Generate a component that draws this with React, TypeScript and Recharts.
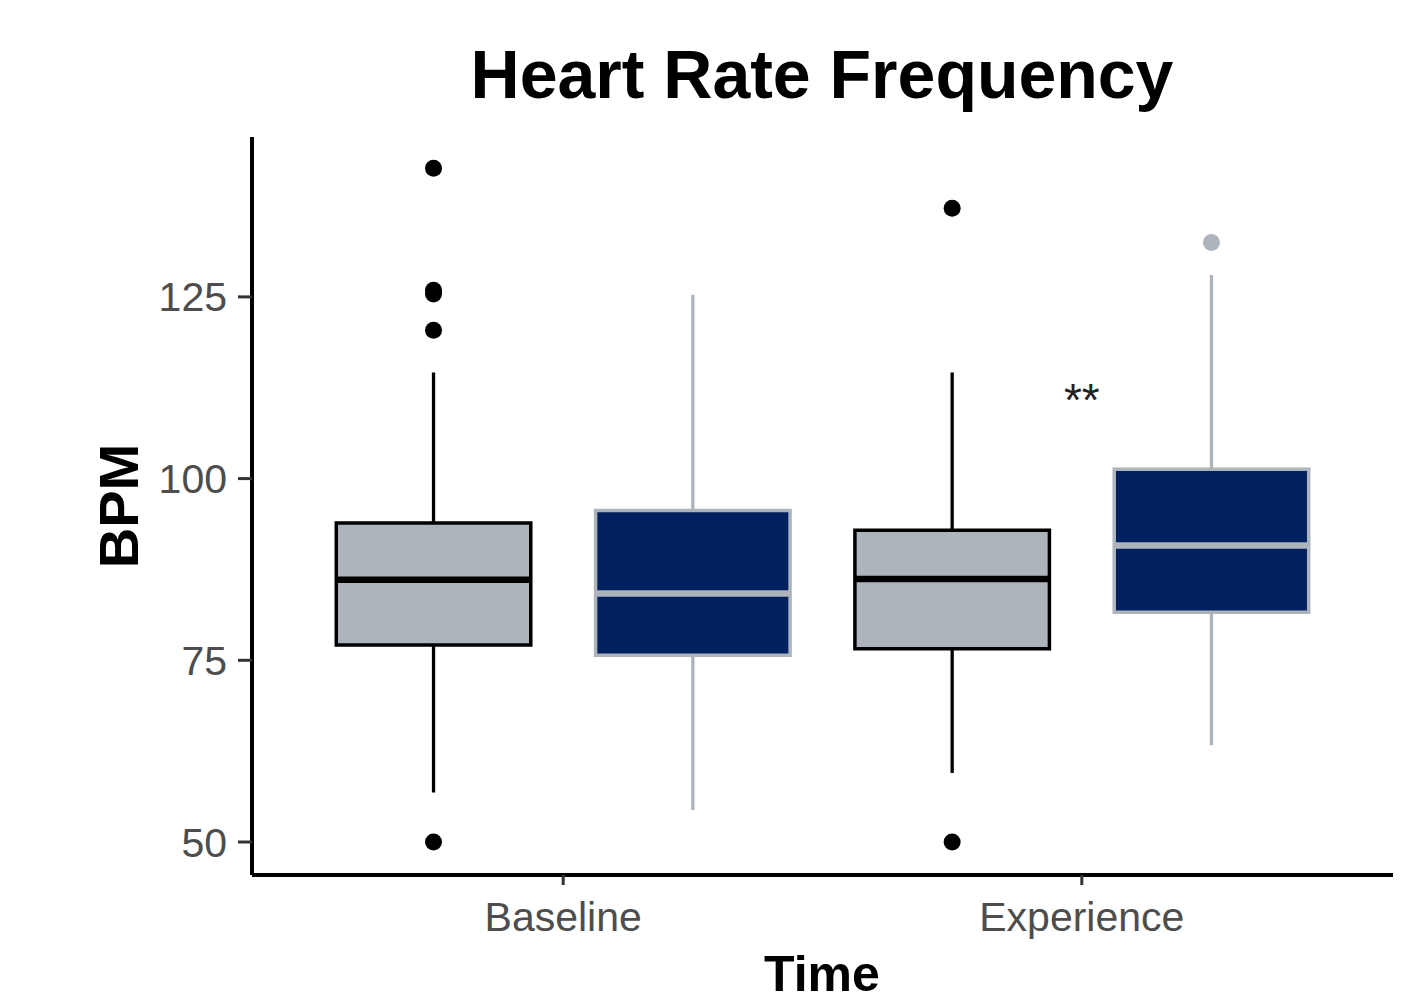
import React from "react";
import {
  ComposedChart,
  XAxis,
  YAxis,
  Scatter,
  ReferenceArea,
  ReferenceLine,
  ReferenceDot,
} from "recharts";

// time points on the x axis
const timePoints = ["Baseline", "Experience"];

// first condition (light grey boxes)
const greyLow = [56.8, 59.5];
const greyQ1 = [77.1, 76.6];
const greyMedian = [86.1, 86.2];
const greyQ3 = [93.9, 92.9];
const greyHigh = [114.6, 114.6];
const greyOutliers = [
  [142.7, 125.4, 125.9, 120.4, 50],
  [137.2, 50],
];

// second condition (navy boxes)
const navyLow = [54.4, 63.3];
const navyQ1 = [75.7, 81.6];
const navyMedian = [84.2, 90.8];
const navyQ3 = [95.6, 101.3];
const navyHigh = [125.3, 128.0];
const navyOutliers = [[], [132.5]];

// significance mark at Experience
const starLabel = "**";
const starY = 111.6;

const yTicks = [50, 75, 100, 125];

const GREY = "#ADB4BC";
const NAVY = "#01205F";
const W = 1410;
const H = 1004;
const DODGE = 0.25;
const HALF = 0.1875;

type BoxSet = {
  low: number[];
  q1: number[];
  median: number[];
  q3: number[];
  high: number[];
  outliers: number[][];
};

const series: { key: string; offset: number; fill: string; line: string; box: BoxSet }[] = [
  {
    key: "grey",
    offset: -DODGE,
    fill: GREY,
    line: "#000000",
    box: { low: greyLow, q1: greyQ1, median: greyMedian, q3: greyQ3, high: greyHigh, outliers: greyOutliers },
  },
  {
    key: "navy",
    offset: DODGE,
    fill: NAVY,
    line: GREY,
    box: { low: navyLow, q1: navyQ1, median: navyMedian, q3: navyQ3, high: navyHigh, outliers: navyOutliers },
  },
];

const FONT = "'Liberation Sans', Arial, sans-serif";

export default function App() {
  const whiskers: React.ReactNode[] = [];
  const boxes: React.ReactNode[] = [];
  const medians: React.ReactNode[] = [];

  series.forEach((s) => {
    timePoints.forEach((_, i) => {
      const cx = i + 1 + s.offset;
      whiskers.push(
        <ReferenceLine
          key={`${s.key}-hi-${i}`}
          segment={[{ x: cx, y: s.box.q3[i] }, { x: cx, y: s.box.high[i] }]}
          stroke={s.line}
          strokeWidth={3.3}
        />,
        <ReferenceLine
          key={`${s.key}-lo-${i}`}
          segment={[{ x: cx, y: s.box.low[i] }, { x: cx, y: s.box.q1[i] }]}
          stroke={s.line}
          strokeWidth={3.3}
        />
      );
      boxes.push(
        <ReferenceArea
          key={`${s.key}-box-${i}`}
          x1={cx - HALF}
          x2={cx + HALF}
          y1={s.box.q1[i]}
          y2={s.box.q3[i]}
          fill={s.fill}
          fillOpacity={1}
          stroke={s.line}
          strokeWidth={3.5}
        />
      );
      medians.push(
        <ReferenceLine
          key={`${s.key}-med-${i}`}
          segment={[
            { x: cx - HALF, y: s.box.median[i] },
            { x: cx + HALF, y: s.box.median[i] },
          ]}
          stroke={s.line}
          strokeWidth={6.5}
        />
      );
    });
  });

  const outlierData = series.map((s) =>
    s.box.outliers.flatMap((vals, i) => vals.map((v) => ({ x: i + 1 + s.offset, y: v })))
  );

  return (
    <div style={{ position: "absolute", left: 0, top: 0, width: W, height: H, background: "#fff" }}>
      <ComposedChart width={W} height={H} margin={{ top: 137, right: 17, bottom: 0, left: 0 }}>
        <XAxis
          type="number"
          dataKey="x"
          domain={[0.4, 2.6]}
          ticks={[1, 2]}
          allowDataOverflow
          tickFormatter={(v: number) => timePoints[v - 1]}
          height={129}
          axisLine={{ stroke: "#000", strokeWidth: 4 }}
          tickLine={{ stroke: "#333", strokeWidth: 3 }}
          tickSize={10}
          tickMargin={17}
          tick={{ fill: "#4D4D4D", fontSize: 41, fontFamily: FONT }}
        />
        <YAxis
          type="number"
          dataKey="y"
          domain={[45.46, 147]}
          ticks={yTicks}
          allowDataOverflow
          width={252}
          axisLine={{ stroke: "#000", strokeWidth: 4 }}
          tickLine={{ stroke: "#333", strokeWidth: 3 }}
          tickSize={14}
          tickMargin={11}
          tick={{ fill: "#4D4D4D", fontSize: 41, fontFamily: FONT }}
        />
        {whiskers}
        {boxes}
        {medians}
        <Scatter
          data={outlierData[0]}
          isAnimationActive={false}
          shape={(p: any) => <circle cx={p.cx} cy={p.cy} r={8.5} fill="#000" />}
        />
        <Scatter
          data={outlierData[1]}
          isAnimationActive={false}
          shape={(p: any) => <circle cx={p.cx} cy={p.cy} r={8.5} fill={GREY} />}
        />
        <ReferenceDot
          x={2}
          y={starY}
          r={0}
          stroke="none"
          label={{
            content: (props: any) => {
              const vb = props.viewBox || {};
              const x = (vb.x ?? 0) + (vb.width ?? 0) / 2;
              const y = (vb.y ?? 0) + (vb.height ?? 0) / 2;
              return (
                <text x={x} y={y + 22} textAnchor="middle" fontSize={46} fontFamily={FONT} fill="#222">
                  {starLabel}
                </text>
              );
            },
          }}
        />
      </ComposedChart>
      <svg width={W} height={H} style={{ position: "absolute", left: 0, top: 0, pointerEvents: "none" }}>
        <text x={822} y={98} textAnchor="middle" fontSize={68} fontWeight="bold" fontFamily={FONT} fill="#000">
          Heart Rate Frequency
        </text>
        <text
          x={138}
          y={506}
          transform="rotate(-90 138 506)"
          textAnchor="middle"
          fontSize={56}
          fontWeight="bold"
          fontFamily={FONT}
          fill="#000"
        >
          BPM
        </text>
        <text x={822} y={991} textAnchor="middle" fontSize={50} fontWeight="bold" fontFamily={FONT} fill="#000">
          Time
        </text>
      </svg>
    </div>
  );
}
